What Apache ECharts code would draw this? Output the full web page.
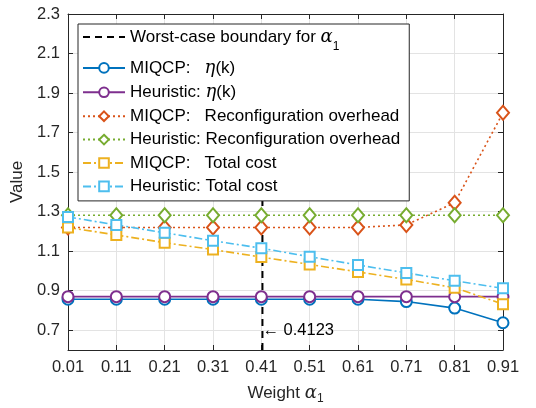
<!DOCTYPE html>
<html>
<head>
<meta charset="utf-8">
<script src="https://cdn.jsdelivr.net/npm/echarts@6/dist/echarts.min.js"></script>
<style>
  html, body { margin: 0; padding: 0; background: #fff; }
  #chart { width: 536px; height: 408px; }
</style>
</head>
<body>
<div id="chart"></div>
<script>
// weights on the x axis
const weights = [0.01, 0.11, 0.21, 0.31, 0.41, 0.51, 0.61, 0.71, 0.81, 0.91];
const yTicks = [0.7, 0.9, 1.1, 1.3, 1.5, 1.7, 1.9, 2.1, 2.3];

const miqcpEta = [0.857, 0.857, 0.857, 0.857, 0.857, 0.857, 0.857, 0.845, 0.812, 0.738];
const heurEta = [0.87, 0.87, 0.87, 0.87, 0.87, 0.87, 0.87, 0.87, 0.87, 0.87];
const miqcpReconf = [1.22, 1.22, 1.22, 1.22, 1.22, 1.22, 1.22, 1.233, 1.345, 1.80];
const heurReconf = [1.282, 1.282, 1.282, 1.282, 1.282, 1.282, 1.282, 1.282, 1.282, 1.282];
const miqcpTotal = [1.22, 1.182, 1.143, 1.108, 1.07, 1.033, 0.995, 0.957, 0.915, 0.832];
const heurTotal = [1.273, 1.233, 1.193, 1.153, 1.115, 1.072, 1.03, 0.99, 0.95, 0.912];

const boundaryX = 0.4123;
const boundaryTop = 1.9; // ends under the legend box
const yMin = 0.6, yMax = 2.3;

const font = 'Liberation Sans, Arial, sans-serif';
const axisColor = '#262626';

const pairs = (vals) => weights.map((w, i) => [w, vals[i]]);

function lineSeries(name, vals, color, symbol, lineType, size) {
  return {
    name: name,
    type: 'line',
    data: pairs(vals),
    symbol: symbol,
    symbolSize: size,
    color: color,
    lineStyle: { color: color, width: 1.6, type: lineType },
    itemStyle: { color: color, borderWidth: 1.7 },
    z: 3
  };
}

const chart = echarts.init(document.getElementById('chart'));

const option = {
  animation: false,
  textStyle: { fontFamily: font },
  grid: { left: 68, right: 33, top: 14, bottom: 58, containLabel: false, outerBoundsMode: 'none' },
  legend: {
    orient: 'vertical',
    left: 78,
    top: 24,
    padding: [4, 9, 6, 4],
    itemGap: 6.4,
    itemWidth: 42,
    itemHeight: 12,
    backgroundColor: '#fff',
    borderColor: axisColor,
    borderWidth: 1,
    borderRadius: 0,
    textStyle: {
      fontSize: 17,
      color: '#000',
      fontFamily: font,
      rich: {
        it: { fontSize: 18, fontStyle: 'italic', fontFamily: 'DejaVu Serif', color: '#000' },
        sub: { fontSize: 12, color: '#000', verticalAlign: 'bottom', padding: [19, 0, 0, 0] }
      }
    },
    formatter: function (name) {
      return {
        'boundary': 'Worst-case boundary for {it|α}{sub|1}',
        'miqcpEta': 'MIQCP:   {it|η}(k)',
        'heurEta': 'Heuristic: {it|η}(k)',
        'miqcpReconf': 'MIQCP:   Reconfiguration overhead',
        'heurReconf': 'Heuristic: Reconfiguration overhead',
        'miqcpTotal': 'MIQCP:   Total cost',
        'heurTotal': 'Heuristic: Total cost'
      }[name];
    },
    data: [
      { name: 'boundary', itemStyle: { opacity: 0 } },
      'miqcpEta', 'heurEta', 'miqcpReconf', 'heurReconf', 'miqcpTotal', 'heurTotal'
    ]
  },
  xAxis: [{
    type: 'value',
    min: weights[0],
    max: weights[weights.length - 1],
    name: 'Weight {it|α}{sub|1}',
    nameLocation: 'middle',
    nameGap: 31,
    nameTextStyle: {
      fontSize: 17, color: axisColor, fontFamily: font,
      rich: {
        it: { fontSize: 18, fontStyle: 'italic', fontFamily: 'DejaVu Serif', color: axisColor },
        sub: { fontSize: 12, color: axisColor, verticalAlign: 'bottom', padding: [12, 0, 0, 0] }
      }
    },
    axisLine: { lineStyle: { color: axisColor, width: 1 } },
    axisTick: { inside: true, length: 5, customValues: weights, lineStyle: { color: axisColor } },
    axisLabel: {
      customValues: weights, fontSize: 16.5, color: axisColor, margin: 9,
      formatter: (v) => v.toFixed(2)
    },
    splitLine: { show: true, lineStyle: { color: '#e3e3e3', width: 1 } }
  }, {
    type: 'value',
    position: 'top',
    min: weights[0],
    max: weights[weights.length - 1],
    axisLine: { show: true, lineStyle: { color: axisColor, width: 1 } },
    axisTick: { inside: true, length: 5, customValues: weights, lineStyle: { color: axisColor } },
    axisLabel: { show: false },
    splitLine: { show: false }
  }],
  yAxis: [{
    type: 'value',
    min: yMin,
    max: yMax,
    name: 'Value',
    nameLocation: 'middle',
    nameGap: 41,
    nameTextStyle: { fontSize: 17, color: axisColor, fontFamily: font },
    axisLine: { show: true, lineStyle: { color: axisColor, width: 1 } },
    axisTick: { show: true, inside: true, length: 5, customValues: yTicks, lineStyle: { color: axisColor } },
    axisLabel: {
      customValues: yTicks, fontSize: 16.5, color: axisColor, margin: 8,
      formatter: (v) => v.toFixed(1)
    },
    splitLine: { show: true, lineStyle: { color: '#e3e3e3', width: 1 } }
  }, {
    type: 'value',
    position: 'right',
    min: yMin,
    max: yMax,
    axisLine: { show: true, lineStyle: { color: axisColor, width: 1 } },
    axisTick: { show: true, inside: true, length: 5, customValues: yTicks, lineStyle: { color: axisColor } },
    axisLabel: { show: false },
    splitLine: { show: false }
  }],
  series: [
    {
      name: 'boundary',
      type: 'line',
      data: [[boundaryX, yMin], [boundaryX, boundaryTop]],
      symbol: 'none',
      color: '#000',
      lineStyle: { color: '#000', width: 2, type: [7, 5] },
      z: 2,
      markPoint: {
        symbol: 'circle',
        symbolSize: 0,
        data: [{ coord: [boundaryX, 0.7] }],
        label: {
          show: true,
          position: 'right',
          distance: 0,
          formatter: '← 0.4123',
          fontSize: 16.5,
          color: '#000',
          fontFamily: font
        }
      }
    },
    lineSeries('miqcpEta', miqcpEta, '#0072BD', 'emptyCircle', 'solid', 11),
    lineSeries('heurEta', heurEta, '#7E2F8E', 'emptyCircle', 'solid', 11),
    lineSeries('miqcpReconf', miqcpReconf, '#D95319', 'emptyDiamond', [2, 3], [12, 14]),
    lineSeries('heurReconf', heurReconf, '#77AC30', 'emptyDiamond', [2, 3], [12, 14]),
    lineSeries('miqcpTotal', miqcpTotal, '#EDB120', 'emptyRect', [8, 3, 2, 3], 10),
    lineSeries('heurTotal', heurTotal, '#4DBEEE', 'emptyRect', [8, 3, 2, 3], 10)
  ]
};

chart.setOption(option);
</script>
</body>
</html>
